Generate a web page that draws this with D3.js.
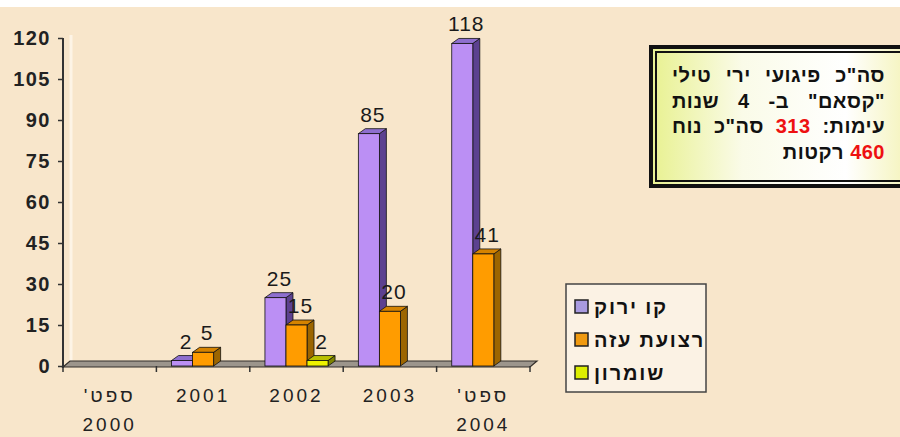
<!DOCTYPE html>
<html>
<head>
<meta charset="utf-8">
<script src="https://cdn.jsdelivr.net/npm/d3@7"></script>
<style>
  body { margin: 0; background: #fff; }
  svg text { font-family: "Liberation Sans", Arial, sans-serif; }
</style>
</head>
<body>
<svg id="chart" width="900" height="437"></svg>
<script>
// data
const categories = [["ספט'", "2000"], ["2001"], ["2002"], ["2003"], ["ספט'", "2004"]];
const seriesNames = ["קו ירוק", "רצועת עזה", "שומרון"];
const greenLine = [0, 2, 25, 85, 118];
const gazaStrip = [0, 5, 15, 20, 41];
const samaria = [0, 0, 2, 0, 0];
const yTicks = [0, 15, 30, 45, 60, 75, 90, 105, 120];
const noteLines = [
  [{ t: 'סה"כ פיגועי ירי טילי' }],
  [{ t: '"קסאם" ב- 4 שנות' }],
  [{ t: 'עימות: ' }, { t: '313', red: true }, { t: ' סה"כ נוח' }],
  [{ t: '460', red: true }, { t: ' רקטות' }]
];

const seriesData = [greenLine, gazaStrip, samaria];
const colors = [
  { front: '#bb8ff4', top: '#8e6fcf', side: '#5c4190', swatch: '#a99be0' },
  { front: '#ff9c00', top: '#d58300', side: '#9c6500', swatch: '#f09a10' },
  { front: '#eef200', top: '#b9c000', side: '#7d8200', swatch: '#dcee00' }
];

const svg = d3.select('#chart');
const defs = svg.append('defs');
let grad = defs.append('linearGradient').attr('id', 'noteFill');
grad.append('stop').attr('offset', '0%').attr('stop-color', '#e8f190');
grad.append('stop').attr('offset', '35%').attr('stop-color', '#fafbe8');
grad.append('stop').attr('offset', '75%').attr('stop-color', '#ffffff');
grad.append('stop').attr('offset', '100%').attr('stop-color', '#f4f3b8');

// page background
svg.append('rect')
  .attr('x', 0).attr('y', 7).attr('width', 900).attr('height', 430)
  .attr('fill', '#f8e6cb');

const x0 = 63, x1 = 530;
const depthX = 7, depthY = -5;

const x = d3.scaleBand()
  .domain(d3.range(categories.length))
  .range([x0, x1]);

const xs = d3.scaleBand()
  .domain(d3.range(seriesData.length))
  .range([0, x.bandwidth()])
  .paddingOuter(0.72);

const y = d3.scaleLinear()
  .domain([0, 120])
  .range([366, 38]);

// faint back wall edge
svg.append('line')
  .attr('x1', x0 + depthX + 1).attr('x2', x0 + depthX + 1)
  .attr('y1', y(120) - 3).attr('y2', y(0) + depthY)
  .attr('stroke', '#fdf4e6').attr('stroke-width', 3);

// floor
svg.append('path')
  .attr('d', `M${x0},${y(0) + 1}L${x1},${y(0) + 1}L${x1 + depthX},${y(0) + depthY}L${x0 + depthX},${y(0) + depthY}Z`)
  .attr('fill', '#9c958c')
  .attr('stroke', '#332e2a')
  .attr('stroke-width', 1.2);

// y axis
let yAxis = svg.append('g')
  .attr('transform', `translate(${x0},0)`)
  .call(d3.axisLeft(y).tickValues(yTicks).tickSize(5).tickPadding(7));
yAxis.select('.domain').attr('stroke', '#333').attr('stroke-width', 2)
  .attr('d', `M0,${y(120)}V${y(0) + 2}`);
yAxis.selectAll('.tick line').attr('stroke', '#333').attr('stroke-width', 1.5);
yAxis.selectAll('.tick text')
  .attr('font-size', 20).attr('font-weight', 'bold')
  .attr('fill', '#222').attr('letter-spacing', 1.5)
  .style('font-family', '"Liberation Sans", Arial, sans-serif');

// category ticks
svg.selectAll('.ctick')
  .data(d3.range(categories.length + 1))
  .enter().append('line')
  .attr('class', 'ctick')
  .attr('x1', i => x0 + i * x.step()).attr('x2', i => x0 + i * x.step())
  .attr('y1', y(0)).attr('y2', y(0) + 6)
  .attr('stroke', '#333').attr('stroke-width', 1.5);

// category labels
let catG = svg.selectAll('.cat')
  .data(categories)
  .enter().append('text')
  .attr('class', 'cat')
  .attr('direction', 'rtl')
  .attr('text-anchor', 'middle')
  .attr('font-size', 19)
  .attr('fill', '#222')
  .attr('letter-spacing', 3);
catG.selectAll('tspan')
  .data((d, i) => d.map(s => ({ s: s, i: i })))
  .enter().append('tspan')
  .attr('x', d => x(d.i) + x.bandwidth() / 2)
  .attr('y', (d, j) => 402 + j * 29)
  .text(d => d.s);

// bars
let bars = [];
seriesData.forEach((vals, s) => {
  vals.forEach((v, c) => {
    if (v > 0) bars.push({ s: s, c: c, v: v });
  });
});

let barG = svg.selectAll('g.bar')
  .data(bars)
  .enter().append('g')
  .attr('class', 'bar');

barG.append('path') // side
  .attr('d', d => {
    let bx = x(d.c) + xs(d.s) + xs.bandwidth();
    return `M${bx},${y(0)}L${bx + depthX},${y(0) + depthY}L${bx + depthX},${y(d.v) + depthY}L${bx},${y(d.v)}Z`;
  })
  .attr('fill', d => colors[d.s].side)
  .attr('stroke', '#111').attr('stroke-width', 0.8);

barG.append('path') // top
  .attr('d', d => {
    let bx = x(d.c) + xs(d.s), bw = xs.bandwidth(), ty = y(d.v);
    return `M${bx},${ty}L${bx + depthX},${ty + depthY}L${bx + bw + depthX},${ty + depthY}L${bx + bw},${ty}Z`;
  })
  .attr('fill', d => colors[d.s].top)
  .attr('stroke', '#111').attr('stroke-width', 0.8);

barG.append('rect') // front
  .attr('x', d => x(d.c) + xs(d.s))
  .attr('y', d => y(d.v))
  .attr('width', xs.bandwidth())
  .attr('height', d => y(0) - y(d.v))
  .attr('fill', d => colors[d.s].front)
  .attr('stroke', '#111').attr('stroke-width', 0.8);

// value labels
svg.selectAll('.vlabel')
  .data(bars)
  .enter().append('text')
  .attr('class', 'vlabel')
  .attr('x', d => x(d.c) + xs(d.s) + xs.bandwidth() / 2 + 4)
  .attr('y', d => y(d.v) - 12)
  .attr('text-anchor', 'middle')
  .attr('font-size', 21)
  .attr('letter-spacing', 1)
  .attr('fill', '#1a1a1a')
  .text(d => d.v);

// legend
let lg = svg.append('g').attr('transform', 'translate(566,284)');
lg.append('rect')
  .attr('width', 140).attr('height', 108)
  .attr('fill', '#fbf2e4')
  .attr('stroke', '#444').attr('stroke-width', 1.5);
let li = lg.selectAll('.li')
  .data(seriesNames)
  .enter().append('g')
  .attr('class', 'li')
  .attr('transform', (d, i) => `translate(0,${16 + i * 33})`);
li.append('rect')
  .attr('x', 9).attr('y', 0).attr('width', 13).attr('height', 13)
  .attr('fill', (d, i) => colors[i].swatch)
  .attr('stroke', '#222').attr('stroke-width', 1.5);
li.append('text')
  .attr('direction', 'rtl')
  .attr('text-anchor', 'end')
  .attr('x', 28).attr('y', 14)
  .attr('font-size', 20).attr('font-weight', 'bold')
  .attr('letter-spacing', 1.8)
  .attr('fill', '#111')
  .text(d => d);

// note box
let nb = svg.append('g');
nb.append('rect')
  .attr('x', 651).attr('y', 47).attr('width', 260).attr('height', 139)
  .attr('fill', 'url(#noteFill)')
  .attr('stroke', '#111').attr('stroke-width', 4);
nb.append('rect')
  .attr('x', 656).attr('y', 52).attr('width', 250).attr('height', 129)
  .attr('fill', 'none')
  .attr('stroke', '#111').attr('stroke-width', 2);

const noteRight = 885, noteWidth = 213;
noteLines.forEach((parts, i) => {
  let t = nb.append('text')
    .attr('direction', 'rtl')
    .attr('x', noteRight).attr('y', 82 + i * 25.5)
    .attr('text-anchor', 'start')
    .attr('font-size', 20).attr('font-weight', 'bold')
    .attr('letter-spacing', 0.5)
    .attr('fill', '#111');
  parts.forEach(p => {
    t.append('tspan')
      .attr('fill', p.red ? '#ee1111' : '#111')
      .text(p.t);
  });
  // justify the full lines like the original box
  if (i < 3) {
    let full = parts.map(p => p.t).join('');
    let gaps = full.split(' ').length - 1;
    let w = t.node().getComputedTextLength();
    if (gaps > 0 && w < noteWidth) t.attr('word-spacing', (noteWidth - w) / gaps);
  }
});
</script>
</body>
</html>
